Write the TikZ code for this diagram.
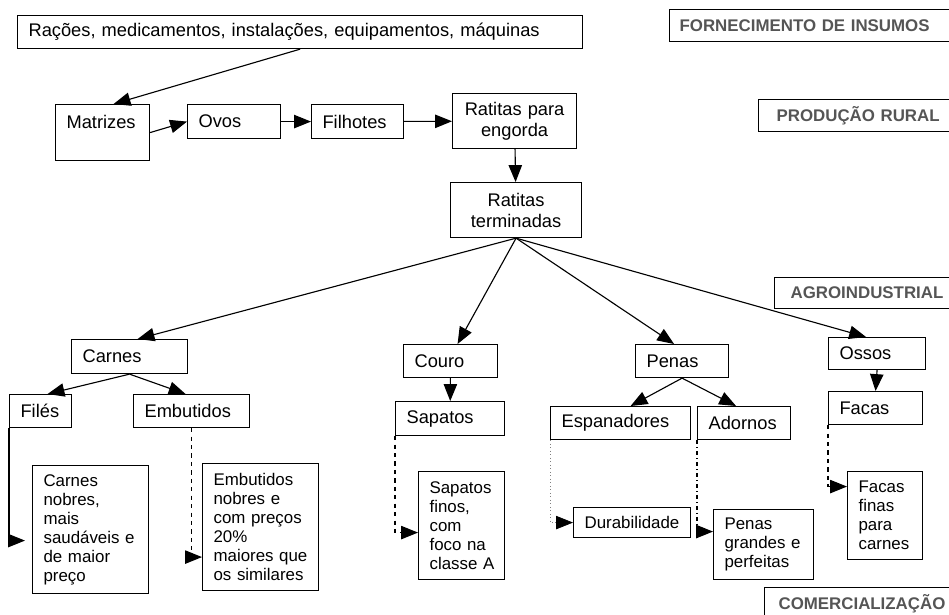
\documentclass[tikz,border=0pt]{standalone}
\usepackage{fontspec}
\setmainfont{Liberation Sans}
\usetikzlibrary{arrows.meta,calc,positioning}
\definecolor{rotulo}{RGB}{85,85,85}

\tikzset{
  caixa/.style={draw, line width=0.8pt, anchor=north west, inner xsep=0.275cm, inner ysep=0pt, align=left, font=\fontsize{13}{15}\selectfont},
  texto/.style={caixa, font=\fontsize{12}{13.5}\selectfont},
  etapa/.style={draw, line width=0.8pt, anchor=north west, inner ysep=0pt, align=left, text=rotulo, font=\fontsize{12}{14}\selectfont\bfseries},
  seta/.style={line width=0.8pt, -{Triangle[length=12pt,width=9.5pt,#1]}},
  seta/.default={}
}

\begin{document}
\begin{tikzpicture}[x=0.025cm,y=-0.025cm]
\useasboundingbox (0,0) rectangle (949,614);
\clip (0,0) rectangle (949,614);

% cadeia principal
\node[caixa, text width=13.575cm, minimum height=0.825cm] (insumos) at (17,15) {Rações, medicamentos, instalações, equipamentos, máquinas};
\node[caixa, text width=1.8cm, minimum height=1.4cm] (matrizes) at (55,104) {Matrizes\\\mbox{}};
\node[caixa, text width=1.775cm, minimum height=0.85cm] (ovos) at (187,104) {Ovos};
\node[caixa, text width=1.75cm, minimum height=0.85cm] (filhotes) at (311,104) {Filhotes};
\node[caixa, align=center, text width=2.55cm, minimum height=1.375cm] (engorda) at (452,93) {Ratitas para\\engorda};
\node[caixa, align=center, text width=2.725cm, minimum height=1.375cm] (terminadas) at (450,182) {Ratitas\\terminadas};

% produtos
\node[caixa, text width=2.35cm, minimum height=0.85cm] (carnes) at (71,339) {Carnes};
\node[caixa, text width=1.0cm, minimum height=0.825cm] (files) at (9,394) {Filés};
\node[caixa, text width=2.35cm, minimum height=0.825cm] (embutidos) at (133,394) {Embutidos};
\node[texto, text width=2.35cm, minimum height=3.2cm] (nobres) at (32,465) {Carnes\\nobres,\\mais\\saudáveis~e\\de~maior\\preço};
\node[texto, text width=2.35cm, minimum height=3.175cm] (embnobres) at (202,463) {Embutidos\\nobres~e\\com~preços\\20\%\\maiores~que\\os~similares};

\node[caixa, text width=1.8cm, minimum height=0.825cm] (couro) at (403,344) {Couro};
\node[caixa, text width=2.175cm, minimum height=0.85cm] (sapatos) at (395,401) {Sapatos};
\node[texto, text width=1.6cm, minimum height=2.7cm] (finos) at (418,471) {Sapatos\\finos,\\com\\foco~na\\classe~A};

\node[caixa, text width=1.775cm, minimum height=0.825cm] (penas) at (635,344) {Penas};
\node[caixa, text width=2.95cm, minimum height=0.825cm] (espanadores) at (550,406) {Espanadores};
\node[caixa, text width=1.775cm, minimum height=0.825cm] (adornos) at (697,406) {Adornos};
\node[texto, text width=2.375cm, minimum height=0.75cm] (durabilidade) at (573,507) {Durabilidade};
\node[texto, text width=1.95cm, minimum height=1.75cm] (grandes) at (713,509) {Penas\\grandes~e\\perfeitas};

\node[caixa, text width=1.875cm, minimum height=0.8cm] (ossos) at (828,337) {Ossos};
\node[caixa, text width=1.8cm, minimum height=0.825cm] (facas) at (828,391) {Facas};
\node[texto, text width=1.325cm, minimum height=2.2cm] (finas) at (847,471) {Facas\\finas\\para\\carnes};

% etapas
\node[etapa, inner xsep=0.25cm, text width=6.8cm, minimum height=0.8cm] (fornecimento) at (669,9) {FORNECIMENTO DE INSUMOS};
\node[etapa, inner xsep=0.45cm, text width=4.5cm, minimum height=0.8cm] (producao) at (758,99) {PRODUÇÃO RURAL};
\node[etapa, inner xsep=0.4cm, text width=4.5cm, minimum height=0.775cm] (agro) at (774,277) {AGROINDUSTRIAL};
\node[etapa, inner xsep=0.35cm, text width=5cm, minimum height=0.8cm] (comercio) at (764,587) {COMERCIALIZAÇÃO};

% ligacoes
\draw[seta] (insumos.south) -- ($(matrizes.north)+(11,0)$);
\draw[seta] (matrizes.east) -- (ovos.west);
\draw[seta] (ovos) -- (filhotes);
\draw[seta] (filhotes) -- (engorda);
\draw[seta] (engorda) -- (terminadas);
\draw[seta] (terminadas.south) -- ($(carnes.north)+(8,0)$);
\draw[seta] (terminadas.south) -- ($(couro.north)+(7,0)$);
\draw[seta] (terminadas.south) -- ($(penas.north)+(-8,0)$);
\draw[seta] (terminadas.south) -- ($(ossos.north)+(-11,0)$);
\draw[seta] (carnes.south) -- ($(files.north)+(7,0)$);
\draw[seta] (carnes.south) -- ($(embutidos.north)+(-6,0)$);
\draw[seta] (couro) -- (sapatos);
\draw[seta] (penas.south) -- ($(espanadores.north)+(10,0)$);
\draw[seta] (penas.south) -- ($(adornos.north)+(-8,0)$);
\draw[seta] (ossos.south) -- (facas.north);

\draw[seta, shorten >=5pt] (files.south west) |- ($(nobres.west)+(0,11)$);
\draw[seta, dashed] (embutidos.south) |- ($(embnobres.west)+(0,30)$);
\draw[seta, dashed] (sapatos.south west) |- ($(finos.west)+(0,7)$);
\draw[seta={color=black}, line width=0.5pt, dotted, gray] (espanadores.south west) |- (durabilidade.west);
\draw[seta, dash dot] (adornos.south west) |- ($(grandes.west)+(0,-13)$);
\draw[seta, dashed] (facas.south west) |- ($(finas.west)+(0,-29)$);
\end{tikzpicture}
\end{document}
